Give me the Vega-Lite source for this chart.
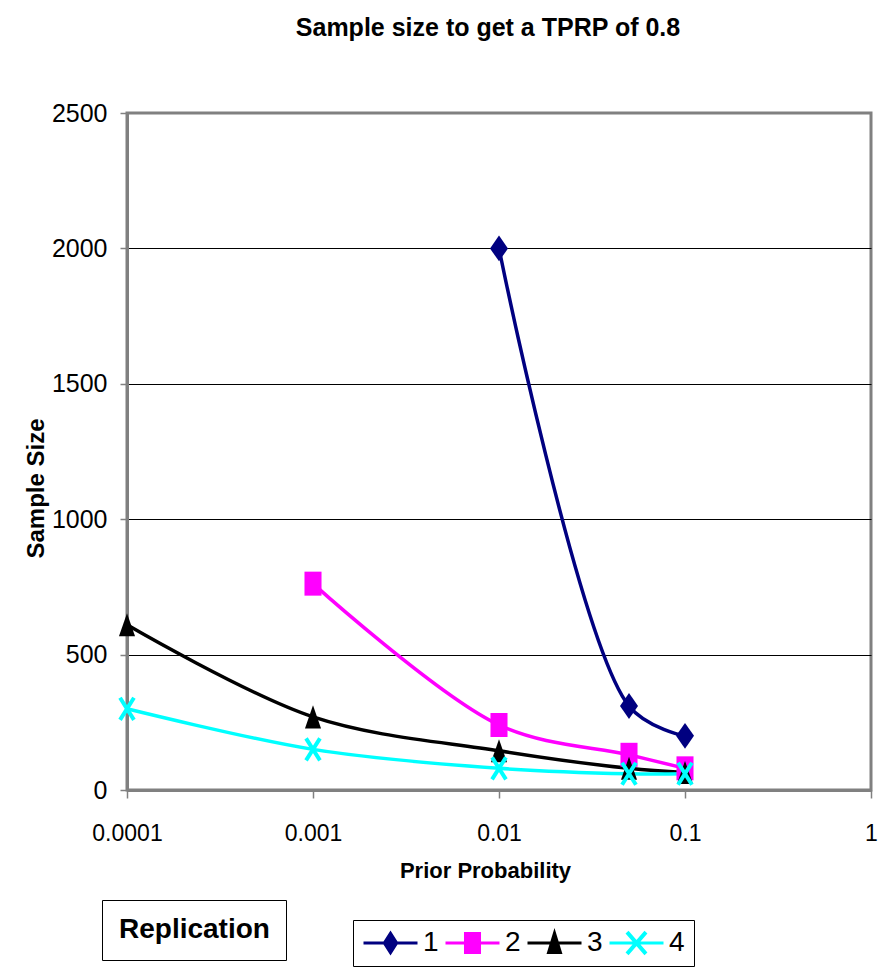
{
  "$schema": "https://vega.github.io/schema/vega-lite/v6.json",
  "width": 744,
  "height": 677,
  "autosize": {"type": "none"},
  "padding": {"left": 127, "top": 113, "right": 14, "bottom": 178},
  "background": "white",
  "title": {
    "text": "Sample size to get a TPRP of 0.8",
    "anchor": "middle",
    "frame": "group",
    "dx": -11,
    "offset": 40,
    "baseline": "alphabetic",
    "font": "Liberation Sans, Arial, sans-serif",
    "fontSize": 25,
    "fontWeight": "bold",
    "color": "#000000"
  },
  "config": {
    "view": {"stroke": "#808080", "strokeWidth": 3},
    "font": "Liberation Sans, Arial, sans-serif"
  },
  "data": {
    "values": [
      {"rep": "1", "p": 0.01, "n": 2000},
      {"rep": "1", "p": 0.05, "n": 310},
      {"rep": "1", "p": 0.1, "n": 200},
      {"rep": "2", "p": 0.001, "n": 762},
      {"rep": "2", "p": 0.01, "n": 240},
      {"rep": "2", "p": 0.05, "n": 130},
      {"rep": "2", "p": 0.1, "n": 80},
      {"rep": "3", "p": 0.0001, "n": 610},
      {"rep": "3", "p": 0.001, "n": 270},
      {"rep": "3", "p": 0.01, "n": 145},
      {"rep": "3", "p": 0.05, "n": 80},
      {"rep": "3", "p": 0.1, "n": 65},
      {"rep": "4", "p": 0.0001, "n": 300},
      {"rep": "4", "p": 0.001, "n": 150},
      {"rep": "4", "p": 0.01, "n": 80},
      {"rep": "4", "p": 0.05, "n": 60},
      {"rep": "4", "p": 0.1, "n": 60}
    ]
  },
  "encoding": {
    "x": {
      "field": "p",
      "type": "quantitative",
      "scale": {"type": "log", "domain": [0.0001, 1], "nice": false},
      "axis": {
        "values": [0.0001, 0.001, 0.01, 0.1, 1],
        "format": "~g",
        "title": "Prior Probability",
        "grid": false,
        "domainColor": "#808080",
        "domainWidth": 3,
        "tickColor": "#808080",
        "tickWidth": 1.5,
        "tickSize": 8,
        "labelFontSize": 23,
        "labelColor": "#000000",
        "labelPadding": 24,
        "labelFlush": false,
        "labelOverlap": false,
        "labelBound": false,
        "titleFontSize": 22,
        "titleFontWeight": "bold",
        "titleColor": "#000000",
        "titleX": 358,
        "titleY": 87,
        "titleBaseline": "alphabetic"
      }
    },
    "y": {
      "field": "n",
      "type": "quantitative",
      "scale": {"domain": [0, 2500], "nice": false},
      "axis": {
        "values": [0, 500, 1000, 1500, 2000, 2500],
        "format": "d",
        "title": "Sample Size",
        "grid": true,
        "gridColor": "#000000",
        "gridWidth": 1,
        "gridOpacity": {"condition": {"test": "datum.value === 0 || datum.value === 2500", "value": 0}, "value": 1},
        "domainColor": "#808080",
        "domainWidth": 3,
        "tickColor": "#808080",
        "tickWidth": 1.5,
        "tickSize": 7,
        "labelFontSize": 25,
        "labelColor": "#000000",
        "labelPadding": 13,
        "titleFontSize": 24,
        "titleFontWeight": "bold",
        "titleColor": "#000000",
        "titleX": -84,
        "titleY": 375,
        "titleBaseline": "alphabetic"
      }
    },
    "color": {
      "field": "rep",
      "type": "nominal",
      "scale": {"domain": ["1", "2", "3", "4"], "range": ["#000080", "#FF00FF", "#000000", "#00FFFF"]},
      "legend": {
        "orient": "none",
        "legendX": 226,
        "legendY": 807,
        "direction": "horizontal",
        "title": null,
        "strokeColor": "#000000",
        "fillColor": "white",
        "padding": 9,
        "symbolSize": 729,
        "symbolOffset": 14.5,
        "symbolStrokeWidth": 0,
        "symbolOpacity": 1,
        "labelFontSize": 28,
        "labelColor": "#000000",
        "labelOffset": 18.5,
        "columnPadding": 5,
        "encode": {
          "symbols": {
            "update": {
              "shape": {"signal": "datum.value === '1' ? 'M-2,-0.11H2V0.11H-2ZM0,-0.93L0.59,0L0,0.93L-0.59,0Z' : datum.value === '2' ? 'M-2,-0.11H2V0.11H-2ZM-0.63,-0.81H0.63V0.81H-0.63Z' : datum.value === '3' ? 'M-2,-0.11H2V0.11H-2ZM0,-1.11L0.59,0.81H-0.59Z' : 'M-2,-0.11H2V0.11H-2ZM-0.59,-0.91L0.81,0.71L0.59,0.91L-0.81,-0.71ZM0.81,-0.71L-0.59,0.91L-0.81,0.71L0.59,-0.91Z'"}
            }
          }
        }
      }
    }
  },
  "layer": [
    {
      "mark": {"type": "line", "interpolate": "catmull-rom", "strokeWidth": 3.5},
      "encoding": {
        "opacity": {
          "datum": "Replication",
          "type": "ordinal",
          "scale": {"range": [1, 1]},
          "legend": {
            "orient": "none",
            "legendX": -25,
            "legendY": 787,
            "title": null,
            "strokeColor": "#000000",
            "fillColor": "white",
            "padding": 16,
            "symbolType": "circle",
            "symbolSize": 0,
            "symbolOpacity": 0,
            "symbolStrokeWidth": 0,
            "labelOffset": -27,
            "labelLimit": 0,
            "labelFontSize": 28,
            "labelFontWeight": "bold",
            "labelColor": "#000000"
          }
        }
      }
    },
    {
      "transform": [{"filter": {"field": "rep", "equal": "1"}}],
      "mark": {"type": "point", "filled": true, "size": 576, "opacity": 1, "shape": "M0,-1.08L0.75,0L0,1.08L-0.75,0Z"}
    },
    {
      "transform": [{"filter": {"field": "rep", "equal": "2"}}],
      "mark": {"type": "point", "filled": true, "size": 576, "opacity": 1, "shape": "M-0.71,-1H0.71V1H-0.71Z"}
    },
    {
      "transform": [{"filter": {"field": "rep", "equal": "3"}}],
      "mark": {"type": "point", "filled": true, "size": 576, "opacity": 1, "shape": "M0,-0.96L0.67,0.96H-0.67Z"}
    },
    {
      "transform": [{"filter": {"field": "rep", "equal": "4"}}],
      "mark": {"type": "point", "filled": true, "size": 576, "opacity": 1, "shape": "M-0.72,-0.83L0.44,1.01L0.72,0.83L-0.44,-1.01ZM0.44,-1.01L-0.72,0.83L-0.44,1.01L0.72,-0.83Z"}
    }
  ]
}
